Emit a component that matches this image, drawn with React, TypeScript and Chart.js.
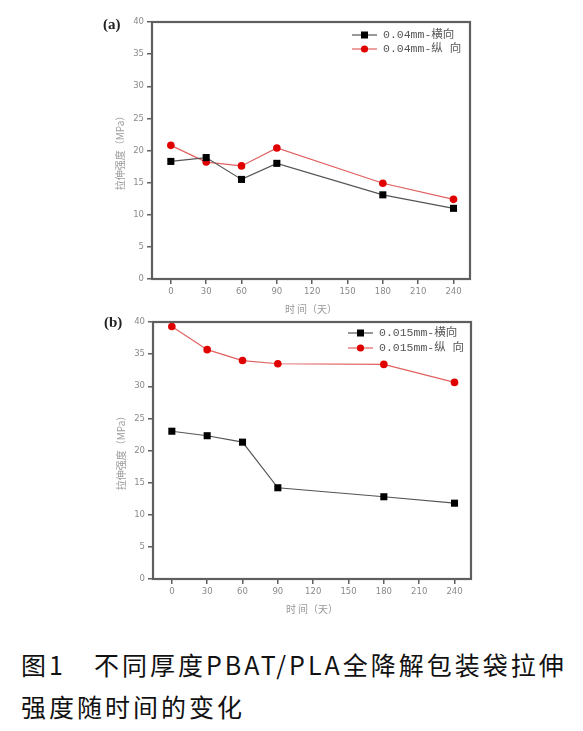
import { useEffect, useRef } from 'react';
import { Chart, registerables } from 'chart.js';

Chart.register(...registerables);

const days = [0, 30, 60, 90, 180, 240];
const xTicks = [0, 30, 60, 90, 120, 150, 180, 210, 240];
const aTransverse = [18.3, 18.9, 15.5, 18.0, 13.1, 11.0];
const aLongitudinal = [20.8, 18.2, 17.6, 20.4, 14.9, 12.4];
const bTransverse = [23.0, 22.3, 21.3, 14.2, 12.8, 11.8];
const bLongitudinal = [39.3, 35.7, 34.0, 33.5, 33.4, 30.6];
const aLabels = ['0.04mm-横向', '0.04mm-纵 向'];
const bLabels = ['0.015mm-横向', '0.015mm-纵 向'];
const yTitle = '拉伸强度（MPa）';
const xTitle = '时 间（天）';

const AXIS = '#5f5f5f';
const TICK_TXT = '#8a8a8a';

const framePlugin = {
  id: 'frame',
  afterDraw(chart: any) {
    const { ctx, chartArea } = chart;
    ctx.save();
    ctx.strokeStyle = AXIS;
    ctx.lineWidth = 2.2;
    ctx.strokeRect(chartArea.left, chartArea.top, chartArea.right - chartArea.left, chartArea.bottom - chartArea.top);
    ctx.restore();
  },
};

const legendPlugin = {
  id: 'lineLegend',
  afterDraw(chart: any, _args: any, opts: any) {
    const { ctx } = chart;
    ctx.save();
    chart.data.datasets.forEach((ds: any, i: number) => {
      const x0 = opts.x;
      const y = opts.y + i * opts.gap;
      ctx.strokeStyle = ds.borderColor;
      ctx.lineWidth = 1.2;
      ctx.beginPath();
      ctx.moveTo(x0, y);
      ctx.lineTo(x0 + 25, y);
      ctx.stroke();
      ctx.fillStyle = ds.pointBackgroundColor;
      if (ds.pointStyle === 'rect') {
        ctx.fillRect(x0 + 12.5 - 3.5, y - 3.5, 7, 7);
      } else {
        ctx.beginPath();
        ctx.arc(x0 + 12.5, y, 3.6, 0, Math.PI * 2);
        ctx.fill();
      }
      ctx.fillStyle = '#555';
      ctx.font = "11.5px 'Liberation Mono', 'Noto Sans CJK SC'";
      ctx.textBaseline = 'middle';
      ctx.textAlign = 'left';
      ctx.fillText(ds.label, x0 + 31, y);
    });
    ctx.restore();
  },
};

function makeConfig(trans: number[], longi: number[], labels: string[], pad: any, legend: any): any {
  return {
    type: 'line',
    data: {
      datasets: [
        {
          label: labels[0],
          data: days.map((d, i) => ({ x: d, y: trans[i] })),
          borderColor: '#555555',
          borderWidth: 1.2,
          pointStyle: 'rect',
          pointRadius: 5,
          pointBackgroundColor: '#000000',
          pointBorderColor: '#000000',
          pointBorderWidth: 0,
          clip: false,
        },
        {
          label: labels[1],
          data: days.map((d, i) => ({ x: d, y: longi[i] })),
          borderColor: '#e06060',
          borderWidth: 1.2,
          pointStyle: 'circle',
          pointRadius: 3.8,
          pointBackgroundColor: '#e00000',
          pointBorderColor: '#e00000',
          pointBorderWidth: 0,
          clip: false,
        },
      ],
    },
    options: {
      animation: false,
      responsive: false,
      devicePixelRatio: 1,
      layout: { padding: pad },
      plugins: {
        legend: { display: false },
        tooltip: { enabled: false },
        lineLegend: legend,
      },
      scales: {
        x: {
          type: 'linear',
          min: -16,
          max: 254,
          afterBuildTicks: (s: any) => {
            s.ticks = xTicks.map((v) => ({ value: v }));
          },
          afterFit: (s: any) => {
            s.height = 36;
          },
          border: { display: false },
          grid: { drawOnChartArea: false, drawTicks: true, tickLength: 5, color: AXIS, lineWidth: 1.5 },
          ticks: { color: TICK_TXT, font: { size: 8.5, family: 'DejaVu Sans' }, padding: 3, maxRotation: 0, autoSkip: false },
          title: { display: true, text: xTitle, color: '#999', font: { size: 10, family: 'Noto Sans CJK SC' }, padding: 0 },
        },
        y: {
          min: 0,
          max: 40,
          afterFit: (s: any) => {
            s.width = 40;
          },
          border: { display: false },
          grid: { drawOnChartArea: false, drawTicks: true, tickLength: 5, color: AXIS, lineWidth: 1.5 },
          ticks: { stepSize: 5, color: TICK_TXT, font: { size: 8.5, family: 'DejaVu Sans' }, padding: 3 },
          title: { display: true, text: yTitle, color: '#9a9a9a', font: { size: 10, family: 'Noto Sans CJK SC' }, padding: { top: 2, bottom: 0 } },
        },
      },
    },
    plugins: [framePlugin, legendPlugin],
  };
}

function Panel(props: { config: any; top: number }) {
  const ref = useRef<HTMLCanvasElement>(null);
  useEffect(() => {
    const chart = new Chart(ref.current as HTMLCanvasElement, props.config);
    return () => chart.destroy();
  }, []);
  return (
    <canvas
      ref={ref}
      width={583}
      height={315}
      style={{ position: 'absolute', left: 0, top: props.top, width: 583, height: 315 }}
    />
  );
}

export default function App() {
  const cfgA = makeConfig(aTransverse, aLongitudinal, aLabels, { left: 112, right: 113, top: 22, bottom: 0 }, { x: 352, y: 35, gap: 14 });
  const cfgB = makeConfig(bTransverse, bLongitudinal, bLabels, { left: 113, right: 112, top: 22, bottom: 0 }, { x: 348, y: 33, gap: 15 });
  const lbl: any = { position: 'absolute', fontFamily: "'Liberation Serif', serif", fontWeight: 'bold', fontSize: 15, color: '#222' };
  return (
    <div style={{ position: 'fixed', left: 0, top: 0, width: 583, height: 731, background: '#fff', overflow: 'hidden' }}>
      <Panel config={cfgA} top={0} />
      <Panel config={cfgB} top={300} />
      <div style={{ ...lbl, left: 103, top: 16 }}>(a)</div>
      <div style={{ ...lbl, left: 104, top: 314 }}>(b)</div>
      <div
        style={{
          position: 'absolute',
          left: 21,
          top: 643,
          fontFamily: "'Noto Sans CJK SC', sans-serif",
          fontSize: 25,
          lineHeight: '42px',
          letterSpacing: 3,
          color: '#111',
          whiteSpace: 'pre',
        }}
      >
        {'图1　不同厚度PBAT/PLA全降解包装袋拉伸\n强度随时间的变化'}
      </div>
    </div>
  );
}
